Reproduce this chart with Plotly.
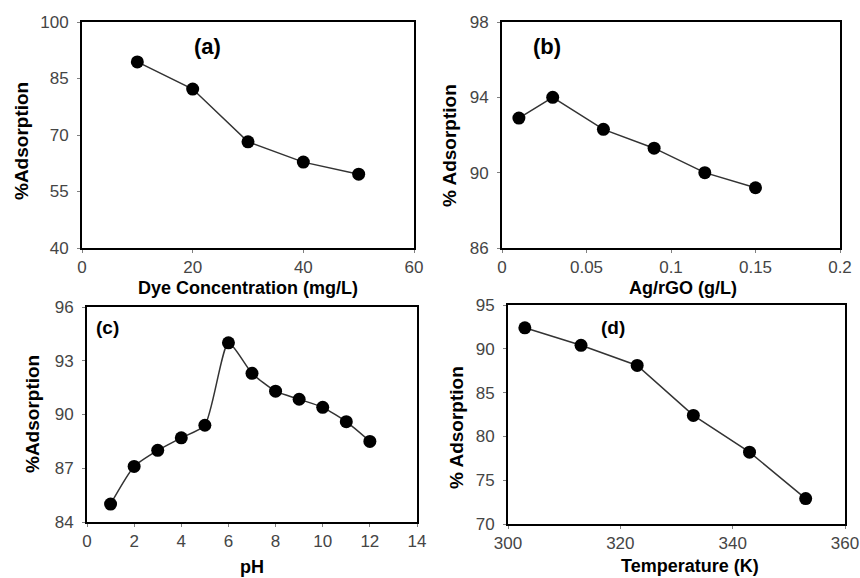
import plotly.graph_objects as go

W, H = 860, 578

# Panel (a)
dye_conc = [10, 20, 30, 40, 50]
ads_a = [89.4, 82.2, 68.2, 62.8, 59.6]
# Panel (b)
agrgo = [0.01, 0.03, 0.06, 0.09, 0.12, 0.15]
ads_b = [92.9, 94.0, 92.3, 91.3, 90.0, 89.2]
# Panel (c)
ph = [1, 2, 3, 4, 5, 6, 7, 8, 9, 10, 11, 12]
ads_c = [85.0, 87.1, 88.0, 88.7, 89.4, 94.0, 92.3, 91.3, 90.85, 90.4, 89.6, 88.5]
# Panel (d)
temp = [303, 313, 323, 333, 343, 353]
ads_d = [92.4, 90.4, 88.1, 82.4, 78.2, 72.9]

# Pixel boxes: (left, right, top, bottom)
boxes = {
    "a": (82, 414, 22, 248),
    "b": (502, 840, 22, 248),
    "c": (87, 417, 307, 522),
    "d": (508, 845, 305, 524),
}

def xd(b):
    return [b[0] / W, b[1] / W]

def yd(b):
    return [(H - b[3]) / H, (H - b[2]) / H]

fig = go.Figure()
line_style = dict(color="#333333", width=1.5)
marker_style = dict(color="black", size=13)

fig.add_trace(go.Scatter(x=dye_conc, y=ads_a, mode="lines+markers", line=line_style,
                         marker=marker_style, xaxis="x", yaxis="y"))
fig.add_trace(go.Scatter(x=agrgo, y=ads_b, mode="lines+markers", line=line_style,
                         marker=marker_style, xaxis="x2", yaxis="y2"))
fig.add_trace(go.Scatter(x=ph, y=ads_c, mode="lines+markers",
                         line=dict(color="#333333", width=1.5, shape="spline", smoothing=0.6),
                         marker=marker_style, xaxis="x3", yaxis="y3"))
fig.add_trace(go.Scatter(x=temp, y=ads_d, mode="lines+markers", line=line_style,
                         marker=marker_style, xaxis="x4", yaxis="y4"))

tickfont = dict(family="Liberation Sans, Arial", size=17, color="#454545")
common = dict(showline=True, linewidth=2, linecolor="black", mirror=True,
              ticks="outside", ticklen=3, tickcolor="#808080", tickwidth=1,
              showgrid=False, zeroline=False, tickfont=tickfont, automargin=False)
ycommon = dict(ticklabelstandoff=5, **common)

fig.update_layout(
    width=W, height=H, margin=dict(l=0, r=0, t=0, b=0),
    paper_bgcolor="white", plot_bgcolor="white", showlegend=False,
    xaxis=dict(domain=xd(boxes["a"]), range=[0, 60], tickvals=[0, 20, 40, 60], anchor="y", **common),
    yaxis=dict(domain=yd(boxes["a"]), range=[40, 100], tickvals=[40, 55, 70, 85, 100], anchor="x", **ycommon),
    xaxis2=dict(domain=xd(boxes["b"]), range=[0, 0.2], tickvals=[0, 0.05, 0.1, 0.15, 0.2],
                ticktext=["0", "0.05", "0.1", "0.15", "0.2"], anchor="y2", **common),
    yaxis2=dict(domain=yd(boxes["b"]), range=[86, 98], tickvals=[86, 90, 94, 98], anchor="x2", **ycommon),
    xaxis3=dict(domain=xd(boxes["c"]), range=[0, 14], tickvals=list(range(0, 15, 2)), anchor="y3", **common),
    yaxis3=dict(domain=yd(boxes["c"]), range=[84, 96], tickvals=[84, 87, 90, 93, 96], anchor="x3", **ycommon),
    xaxis4=dict(domain=xd(boxes["d"]), range=[300, 360], tickvals=[300, 320, 340, 360], anchor="y4", **common),
    yaxis4=dict(domain=yd(boxes["d"]), range=[70, 95], tickvals=[70, 75, 80, 85, 90, 95], anchor="x4", **ycommon),
)

def ann(text, x, y, angle=0, size=18):
    fig.add_annotation(text="<b>" + text + "</b>", x=x / W, y=1 - y / H, xref="paper", yref="paper",
                       showarrow=False, textangle=angle, xanchor="center", yanchor="middle",
                       font=dict(family="Liberation Sans, Arial", size=size, color="black"))

# Axis titles
ann("Dye Concentration (mg/L)", 248, 288)
ann("Ag/rGO (g/L)", 683, 288)
ann("pH", 252, 567)
ann("Temperature (K)", 690, 566)
ann("%Adsorption", 22, 141, angle=-90, size=19)
ann("% Adsorption", 449, 146, angle=-90, size=19)
ann("%Adsorption", 32, 414, angle=-90, size=19)
ann("% Adsorption", 456, 427, angle=-90, size=19)

# Panel labels
ann("(a)", 207, 46, size=22)
ann("(b)", 547, 46, size=22)
ann("(c)", 107, 327, size=19)
ann("(d)", 613, 327, size=19)

fig.write_html("out.html")
